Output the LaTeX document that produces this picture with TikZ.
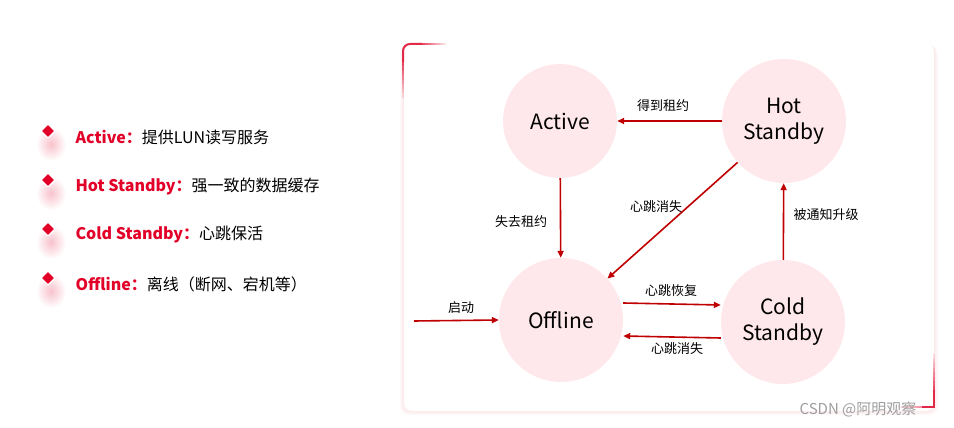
\documentclass[tikz,border=0pt]{standalone}
\usepackage{fontspec}
\setmainfont{Noto Sans CJK SC}
\usetikzlibrary{arrows.meta}
\definecolor{statefill}{RGB}{255,232,236}
\definecolor{arrowred}{RGB}{192,0,0}
\definecolor{legendred}{RGB}{227,0,40}
\definecolor{accentred}{RGB}{228,40,72}

\begin{document}
\begin{tikzpicture}[x=1pt,y=-1pt,
  state/.style={circle, fill=statefill, minimum size=124pt, inner sep=0pt,
    align=center, font=\fontsize{21}{26}\selectfont},
  trans/.style={arrowred, line width=1.6pt, -{Triangle[length=7pt,width=6pt]}},
  elabel/.style={font=\fontsize{13}{15}\selectfont},
  bullet/.style={rectangle, rotate=45, minimum size=10pt, inner sep=0pt,
    fill=legendred, draw=white, line width=1.3pt, rounded corners=1.2pt},
  legend/.style={anchor=west, font=\fontsize{16}{19}\selectfont}]

\useasboundingbox (0,0) rectangle (954,428);
\fill[white] (0,0) rectangle (954,428);

% card with soft shadow
\foreach \s in {1,...,4}
  \fill[accentred, opacity=0.025, rounded corners=8pt] (404-\s,44+\s*0.5) rectangle (934+\s,411+\s);
\fill[white, rounded corners=8pt] (404,44) rectangle (934,411);

% red accents on the card corners
\draw[accentred, line width=2pt, rounded corners=7pt] (403,62) -- (403,44) -- (422,44);
\foreach \i [evaluate=\i as \op using 0.85-\i*0.1] in {0,...,7}{
  \draw[accentred, line width=2pt, opacity=\op] (403,62+\i*4.5) -- (403,66.5+\i*4.5);
  \draw[accentred, line width=2pt, opacity=\op] (422+\i*3,44) -- (425+\i*3,44);
}
\draw[accentred, line width=1.6pt] (934,390) -- (934,407) -- (922,407);
\foreach \i [evaluate=\i as \op using 0.85-\i*0.1] in {0,...,7}{
  \draw[accentred, line width=1.6pt, opacity=\op] (934,390-\i*4.5) -- (934,385.5-\i*4.5);
  \draw[accentred, line width=1.2pt, opacity=\op*0.6] (922-\i*3,407) -- (919-\i*3,407);
}

% legend
\foreach \y/\name/\desc [count=\i] in {131/Active/提供LUN读写服务,
    180/Hot Standby/强一致的数据缓存, 229/Cold Standby/心跳保活,
    278/Offline/离线（断网、宕机等）}{
  \shade[inner color=legendred!24, outer color=white] (51,\y+13) ellipse (15 and 17);
  \node[bullet] (bullet\i) at (48,\y) {};
  \node[legend] (item\i) at (72,\y+6) {\textbf{\color{legendred}\name：}\desc};
}

% states
\node[state, minimum size=114pt] (active) at (560,121) {Active};
\node[state] (hot) at (784,121) {Hot\\Standby};
\node[state] (offline) at (561,320) {Offline};
\node[state] (cold) at (783,322) {Cold\\Standby};
\coordinate (start) at (414,321);

% transitions
\draw[trans] (hot) -- (active);
\draw[trans] (active) -- (offline);
\draw[trans] (hot) -- (offline);
\draw[trans] (cold) -- (hot);
\draw[trans] ([yshift=17pt]offline.east) -- ([yshift=17pt]cold.west);
\draw[trans] ([yshift=-16pt]cold.west) -- ([yshift=-16pt]offline.east);
\draw[trans] (start) -- (offline.west);

\node[elabel] (lgain) at (663,106) {得到租约};
\node[elabel] (llose) at (521,222) {失去租约};
\node[elabel] (lhblost) at (656,207) {心跳消失};
\node[elabel] (lrecover) at (671,291) {心跳恢复};
\node[elabel] (lcdlost) at (677,349) {心跳消失};
\node[elabel] (lpromote) at (826,215) {被通知升级};
\node[elabel] (lstart) at (461,308) {启动};

\node[font=\fontsize{15}{18}\selectfont, text=gray!75] (mark) at (858,409) {CSDN @阿明观察};

\end{tikzpicture}
\end{document}
